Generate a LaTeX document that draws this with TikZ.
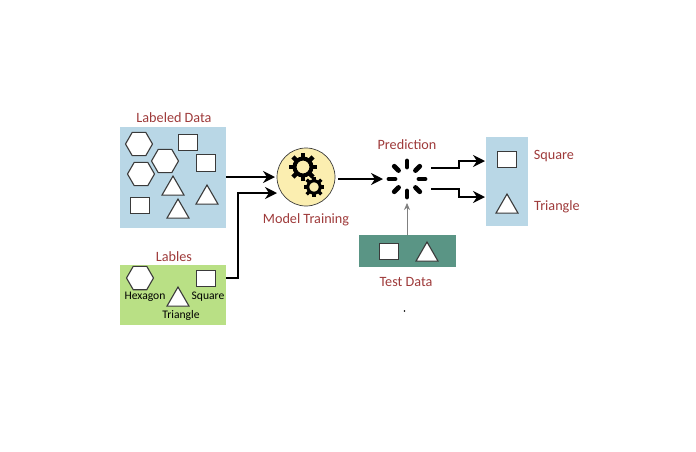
\documentclass[tikz,border=0pt]{standalone}
\usepackage{fontspec}
\setmainfont{Carlito}
\usetikzlibrary{arrows.meta,shapes.geometric}
\definecolor{skyfill}{HTML}{B9D7E6}
\definecolor{limefill}{HTML}{B9E085}
\definecolor{tealfill}{HTML}{5A9585}
\definecolor{creamfill}{HTML}{FBEEB0}
\definecolor{darkred}{HTML}{9E3A3A}
\definecolor{shapeline}{HTML}{3A3A3A}
\newcommand{\gearat}[4]{% x, y, ring radius, ring width
  \draw[line width=#4pt] (#1,#2) circle (#3);
  \foreach \a in {0,45,...,315}
    \fill[black, shift={(#1,#2)}, rotate=\a] (#3,-#3*0.26) rectangle (#3*1.68,#3*0.26);
}
\begin{document}
\begin{tikzpicture}[
  x=1pt, y=-1pt,
  panel/.style={inner sep=0pt, outer sep=0pt, minimum width=#1},
  sqr/.style={draw=shapeline, fill=white, line width=1pt, minimum width=19pt, minimum height=16pt, inner sep=0pt, outer sep=0pt},
  hex/.style={regular polygon, regular polygon sides=6, draw=shapeline, fill=white, line width=1.1pt, minimum size=27pt, inner sep=0pt, outer sep=0pt},
  tri/.style={regular polygon, regular polygon sides=3, draw=shapeline, fill=white, line width=1.1pt, minimum size=25.4pt, inner sep=0pt, outer sep=0pt},
  title/.style={text=darkred, font=\fontsize{14.2}{16}\selectfont},
  tag/.style={text=black, font=\fontsize{11.6}{13}\selectfont},
  arrow/.style={-{Stealth[length=12pt,width=12pt]}, line width=1.5pt, black}
]
  \useasboundingbox (0,0) rectangle (696,451);

  % Labeled data
  \node[panel=106pt, minimum height=101pt, fill=skyfill] (labeled) at (173,177) {};
  \node[title] (labeledtxt) at (174,118) {Labeled Data};
  \node[hex] (hexa) at (139,144) {};
  \node[hex] (hexb) at (165,161) {};
  \node[hex] (hexc) at (141,174) {};
  \node[sqr] (sqa) at (188,142) {};
  \node[sqr, minimum height=17pt] (sqb) at (206,163) {};
  \node[sqr] (sqc) at (140,205) {};
  \node[tri] (tria) at (173,188.7) {};
  \node[tri] (trib) at (207,197.7) {};
  \node[tri] (tric) at (178,211.7) {};

  % Labels
  \node[panel=106pt, minimum height=60pt, fill=limefill] (lables) at (173,295) {};
  \node[title] (lablestxt) at (174,256.5) {Lables};
  \node[hex] (hexd) at (140,278) {};
  \node[sqr] (sqd) at (206,278) {};
  \node[tri] (trid) at (178,299.7) {};
  \node[tag] (hextag) at (145,296.5) {Hexagon};
  \node[tag] (sqtag) at (208,296.5) {Square};
  \node[tag] (tritag) at (181,315) {Triangle};

  % Model training
  \node[circle, draw=shapeline, fill=creamfill, line width=0.7pt, minimum size=58pt, inner sep=0pt, outer sep=0pt] (train) at (306,177) {};
  \gearat{303}{167}{8.5}{4}
  \gearat{314}{187}{6.2}{3}
  \node[title] (traintxt) at (306,220) {Model Training};

  % Prediction
  \node[circle, minimum size=48pt, inner sep=0pt, outer sep=0pt] (spin) at (407,179) {};
  \foreach \a in {0,45,...,315}
    \draw[line width=4.8pt, line cap=round, shift={(spin.center)}] (\a:12) -- (\a:18);
  \node[title] (spintxt) at (407,145) {Prediction};

  % Test data
  \node[panel=97pt, minimum height=32pt, fill=tealfill] (test) at (407.5,251) {};
  \node[sqr] (sqe) at (389,251) {};
  \node[tri] (trie) at (427,254.7) {};
  \node[title] (testtxt) at (406,281.5) {Test Data};
  \node[circle, fill=black, minimum size=1.8pt, inner sep=0pt] (dot) at (404.5,311) {};

  % Result
  \node[panel=42pt, minimum height=89pt, fill=skyfill] (result) at (507,181.5) {};
  \node[sqr] (sqf) at (507,159) {};
  \node[tri] (trif) at (507,206.7) {};
  \node[title] (sqftxt) at (554,156) {Square};
  \node[title] (triftxt) at (557,207) {Triangle};

  % Arrows
  \coordinate (traintip) at (277,193);
  \coordinate (taila) at (431,168);
  \coordinate (tailb) at (431,189);
  \coordinate (heada) at (485,161);
  \coordinate (headb) at (485,197);
  \draw[arrow, shorten >=2pt] (labeled.east |- train) -- (train);
  \draw[arrow] (lables.east |- sqd) -- ++(12,0) |- (traintip);
  \draw[arrow, shorten <=3pt] (train.east |- spin) -- (spin.west);
  \draw[-{Stealth[length=7pt,width=6pt]}, line width=0.7pt, draw=gray, fill=black] (test.north -| spin) -- (spin);
  \draw[arrow] (taila) -- ++(28,0) |- (heada);
  \draw[arrow] (tailb) -- ++(28,0) |- (headb);
\end{tikzpicture}
\end{document}
